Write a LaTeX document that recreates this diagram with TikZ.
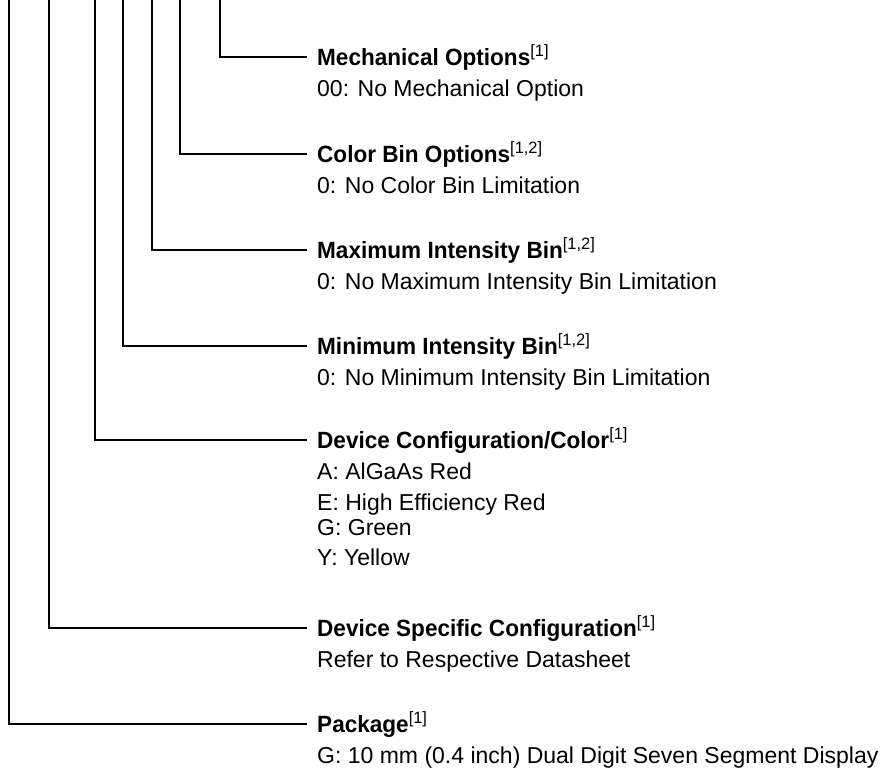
\documentclass[tikz,border=0pt]{standalone}
\usepackage{fontspec}
\setmainfont{Liberation Sans}[BoldFeatures={FakeStretch=0.96}]
\usetikzlibrary{positioning}
\tikzset{lead/.style={line width=1.2pt}}
\tikzset{field/.style={anchor=west,inner xsep=10pt,inner ysep=0pt,
                       text height=16.8pt,text depth=0pt,
                       font=\fontsize{23.5}{28}\selectfont\bfseries}}
\tikzset{option/.style={anchor=west,inner sep=0pt,
                        text height=16.5pt,text depth=0pt,
                        font=\fontsize{23}{28}\selectfont}}
\newcommand{\fnote}[1]{\textsuperscript{\mdseries[#1]}}

\begin{document}
\begin{tikzpicture}[x=1pt,y=-1pt]
    \useasboundingbox (0,0) rectangle (883,775);
    % Draw fields, their first option and the lead from the top
    \foreach \xv/\yv/\name/\ttl/\opt in {%
          220/57/mech/{Mechanical Options\fnote{1}}/{00: No Mechanical Option},
          180/154/cbin/{Color Bin Options\fnote{1,2}}/{0: No Color Bin Limitation},
          152/250/maxi/{Maximum Intensity Bin\fnote{1,2}}/{0: No Maximum Intensity Bin Limitation},
          123/346/mini/{Minimum Intensity Bin\fnote{1,2}}/{0: No Minimum Intensity Bin Limitation},
          95/440/conf/{Device Configuration/Color\fnote{1}}/{A: AlGaAs Red},
          49/628/spec/{Device Specific Configuration\fnote{1}}/{Refer to Respective Datasheet},
          9/724/pack/{Package\fnote{1}}/{G: 10 mm (0.4 inch) Dual Digit Seven Segment Display}}{%
          \coordinate (\name top) at (\xv,0);
          \node[field] (\name) at (307,\yv) {\ttl};
          \node[option] (\name opt) at (317,\yv+31) {\opt};
          \draw[lead] (\name top) |- (\name.west);
        }
    % Remaining colors of the device configuration
    \node[option] (conf e) at (317,502) {E: High Efficiency Red};
    \node[option] (conf g) at (317,527) {G: Green};
    \node[option] (conf y) at (317,557) {Y: Yellow};
\end{tikzpicture}
\end{document}
